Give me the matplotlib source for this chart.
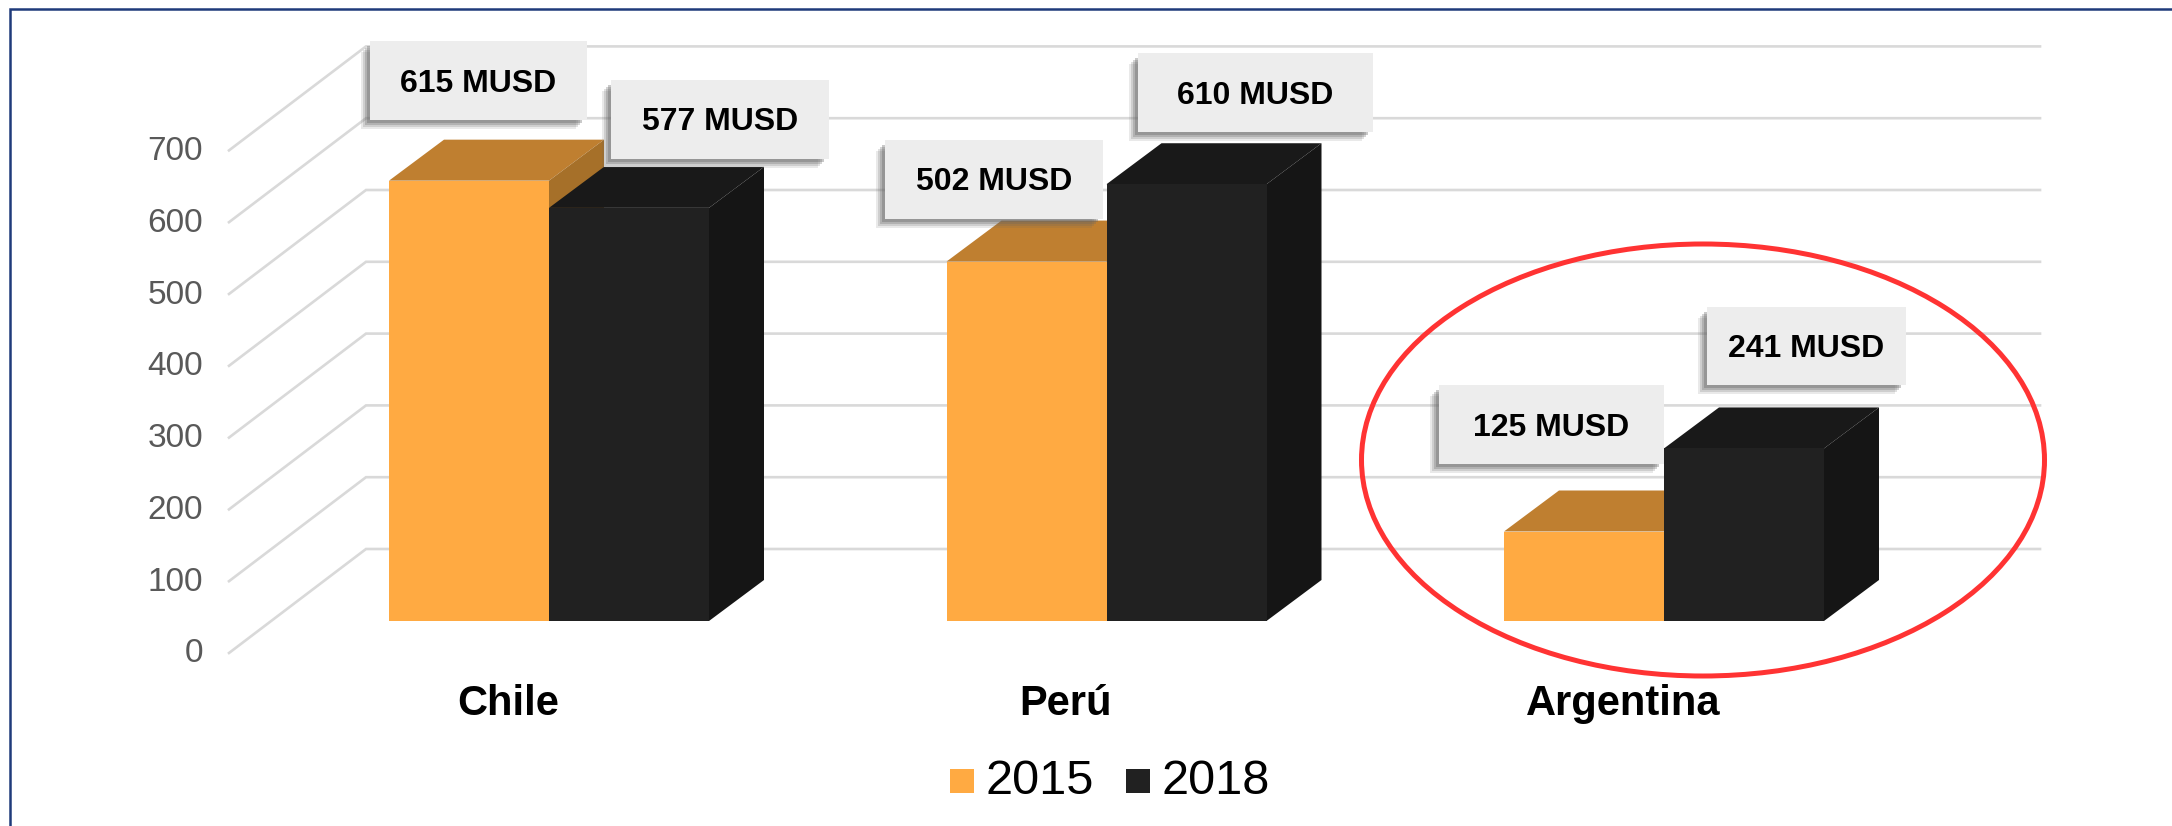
import matplotlib
matplotlib.use('Agg')
import matplotlib.pyplot as plt
from matplotlib.patches import Polygon, Rectangle, Ellipse

plt.rcParams['font.family'] = ['Liberation Sans', 'DejaVu Sans']

# data
paises = ['Chile', 'Perú', 'Argentina']
anios = ['2015', '2018']
valores_2015 = [615, 502, 125]
valores_2018 = [577, 610, 241]
ticks = [0, 100, 200, 300, 400, 500, 600, 700]

W, H = 2172, 826
BASE_Y = 621      # pixel row of value 0 on the bar front
PX_UNIT = 0.716   # pixels per MUSD
PX_CAT = 557.5    # pixels between categories
CENTER0 = 549     # pixel column of first category

fig = plt.figure(figsize=(W / 100, H / 100), dpi=100)
ax = fig.add_axes([0, 0, 1, 1])
ax.set_xlim(-CENTER0 / PX_CAT, (W - CENTER0) / PX_CAT)
ax.set_ylim(-(H - BASE_Y) / PX_UNIT, BASE_Y / PX_UNIT)
ax.axis('off')


def dx(px):
    return px / PX_CAT


def dy(px):
    return px / PX_UNIT


def px_x(px):
    return (px - CENTER0) / PX_CAT


def px_y(py):
    return (BASE_Y - py) / PX_UNIT


# marco: solo arriba e izquierda
ax.plot([px_x(10), px_x(10), px_x(W)], [px_y(H), px_y(9), px_y(9)],
        color='#1F3A7A', lw=1.8, zorder=1, solid_joinstyle='miter')

# grid: pared lateral y pared de fondo
for t in ticks:
    ax.plot([px_x(229), px_x(366), px_x(2040)],
            [t * 0.718 / PX_UNIT + dy(-32), t * 0.718 / PX_UNIT + dy(72), t * 0.718 / PX_UNIT + dy(72)],
            color='#D9D9D9', lw=1.9, zorder=1, solid_joinstyle='miter')
    ax.text(px_x(203), t * 0.718 / PX_UNIT + dy(-33), str(t), ha='right', va='center',
            fontsize=24, color='#595959')

# barras 3D
bar_w = dx(160)
depth_x, depth_y = dx(55), dy(41)
colores = [('#FFAA42', '#BF7F30', '#A67029'), ('#212121', '#191919', '#151515')]
for s, vals in enumerate([valores_2015, valores_2018]):
    front, top, side = colores[s]
    for i, v in enumerate(vals):
        x0 = i - bar_w + s * bar_w
        x1 = x0 + bar_w
        z = 3 + s * 3
        ax.add_patch(Polygon([(x0, v), (x1, v), (x1 + depth_x, v + depth_y), (x0 + depth_x, v + depth_y)],
                             fc=top, ec='none', zorder=z))
        ax.add_patch(Polygon([(x1, 0), (x1 + depth_x, depth_y), (x1 + depth_x, v + depth_y), (x1, v)],
                             fc=side, ec='none', zorder=z))
        ax.bar(x0, v, width=bar_w, align='edge', color=front, zorder=z + 1)

# cajas de etiquetas: (x izq, y arriba, ancho, alto) en pixeles
cajas_2015 = [(370, 41, 217, 79), (885, 140, 218, 79), (1439, 385, 225, 79)]
cajas_2018 = [(611, 80, 218, 79), (1138, 53, 235, 79), (1707, 307, 199, 78)]
for vals, cajas in [(valores_2015, cajas_2015), (valores_2018, cajas_2018)]:
    for v, (bx, by, bw, bh) in zip(vals, cajas):
        # sombra difusa abajo a la izquierda
        for k, a in zip([9, 7, 5, 3], [0.14, 0.2, 0.28, 0.35]):
            ax.add_patch(Rectangle((px_x(bx - k), px_y(by + bh + k)), dx(bw - 2), dy(bh - 2),
                                   fc='#666666', ec='none', alpha=a, zorder=8))
        ax.add_patch(Rectangle((px_x(bx), px_y(by + bh)), dx(bw), dy(bh),
                               fc='#EDEDED', ec='none', zorder=9))
        ax.text(px_x(bx + bw / 2), px_y(by + bh / 2 + 3), f'{v} MUSD', ha='center', va='center',
                fontsize=23, fontweight='bold', color='black', zorder=10)

# categorias
for i, p in enumerate(paises):
    ax.text(px_x([508, 1066, 1623][i]), px_y(704), p, ha='center', va='center',
            fontsize=30, fontweight='bold', color='black')

# leyenda
for cx, lab, col in zip([950, 1126], anios, ['#FFAA42', '#212121']):
    ax.add_patch(Rectangle((px_x(cx), px_y(793)), dx(24), dy(24), fc=col, ec='none'))
    ax.text(px_x(cx + 35), px_y(782), lab, ha='left', va='center', fontsize=35, color='black')

# elipse roja
ax.add_patch(Ellipse((px_x(1703), px_y(460)), dx(683), dy(432), fill=False,
                     ec='#FF3333', lw=3.6, zorder=12))

fig.savefig('out.png', dpi=100)
